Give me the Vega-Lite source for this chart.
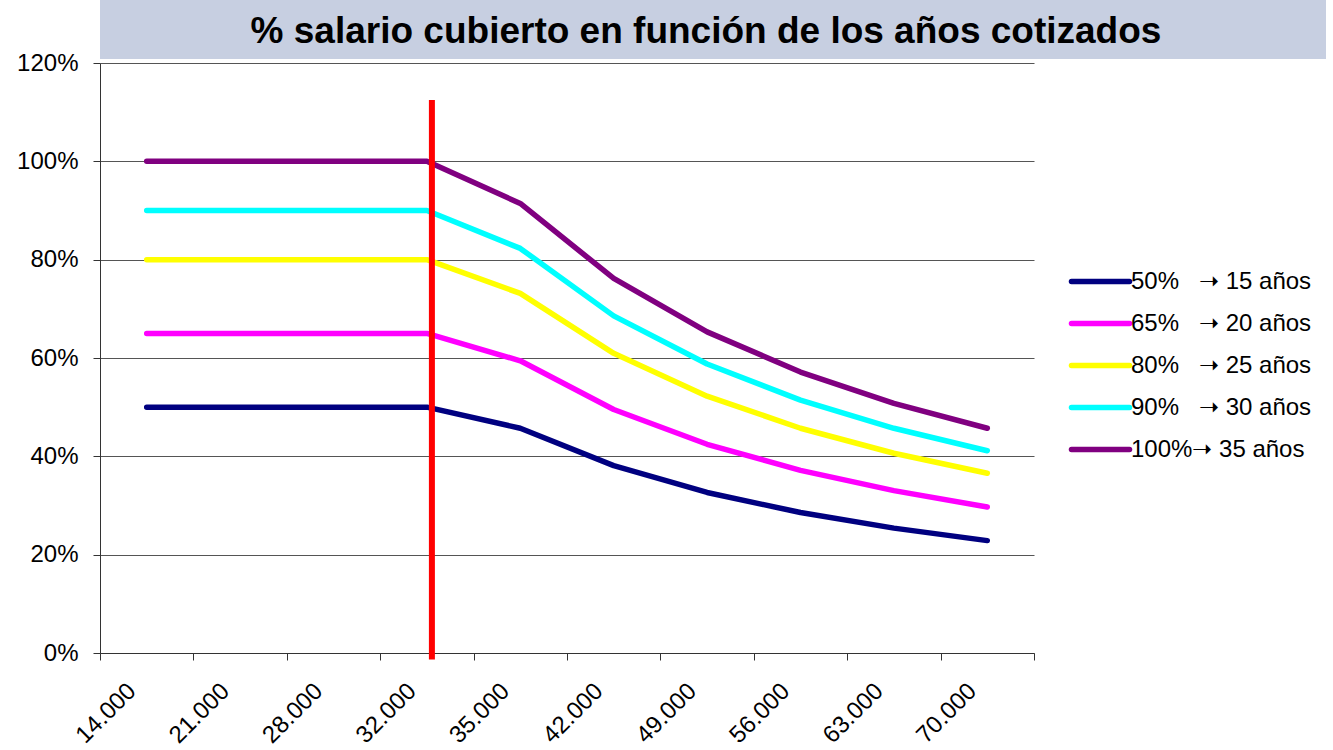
{
  "$schema": "https://vega.github.io/schema/vega-lite/v6.json",
  "padding": {"left": 16, "top": 0, "right": 0, "bottom": 0},
  "background": "white",
  "config": {"font": "Liberation Sans", "view": {"stroke": null}},
  "spacing": 4,
  "bounds": "flush",
  "datasets": {
    "series": [
      {"salario": "14.000", "serie": "50%", "pct": 0.5},
      {"salario": "21.000", "serie": "50%", "pct": 0.5},
      {"salario": "28.000", "serie": "50%", "pct": 0.5},
      {"salario": "32.000", "serie": "50%", "pct": 0.5},
      {"salario": "35.000", "serie": "50%", "pct": 0.4571},
      {"salario": "42.000", "serie": "50%", "pct": 0.381},
      {"salario": "49.000", "serie": "50%", "pct": 0.3265},
      {"salario": "56.000", "serie": "50%", "pct": 0.2857},
      {"salario": "63.000", "serie": "50%", "pct": 0.254},
      {"salario": "70.000", "serie": "50%", "pct": 0.2286},
      {"salario": "14.000", "serie": "65%", "pct": 0.65},
      {"salario": "21.000", "serie": "65%", "pct": 0.65},
      {"salario": "28.000", "serie": "65%", "pct": 0.65},
      {"salario": "32.000", "serie": "65%", "pct": 0.65},
      {"salario": "35.000", "serie": "65%", "pct": 0.5943},
      {"salario": "42.000", "serie": "65%", "pct": 0.4952},
      {"salario": "49.000", "serie": "65%", "pct": 0.4245},
      {"salario": "56.000", "serie": "65%", "pct": 0.3714},
      {"salario": "63.000", "serie": "65%", "pct": 0.3302},
      {"salario": "70.000", "serie": "65%", "pct": 0.2971},
      {"salario": "14.000", "serie": "80%", "pct": 0.8},
      {"salario": "21.000", "serie": "80%", "pct": 0.8},
      {"salario": "28.000", "serie": "80%", "pct": 0.8},
      {"salario": "32.000", "serie": "80%", "pct": 0.8},
      {"salario": "35.000", "serie": "80%", "pct": 0.7314},
      {"salario": "42.000", "serie": "80%", "pct": 0.6095},
      {"salario": "49.000", "serie": "80%", "pct": 0.5224},
      {"salario": "56.000", "serie": "80%", "pct": 0.4571},
      {"salario": "63.000", "serie": "80%", "pct": 0.4063},
      {"salario": "70.000", "serie": "80%", "pct": 0.3657},
      {"salario": "14.000", "serie": "90%", "pct": 0.9},
      {"salario": "21.000", "serie": "90%", "pct": 0.9},
      {"salario": "28.000", "serie": "90%", "pct": 0.9},
      {"salario": "32.000", "serie": "90%", "pct": 0.9},
      {"salario": "35.000", "serie": "90%", "pct": 0.8229},
      {"salario": "42.000", "serie": "90%", "pct": 0.6857},
      {"salario": "49.000", "serie": "90%", "pct": 0.5878},
      {"salario": "56.000", "serie": "90%", "pct": 0.5143},
      {"salario": "63.000", "serie": "90%", "pct": 0.4571},
      {"salario": "70.000", "serie": "90%", "pct": 0.4114},
      {"salario": "14.000", "serie": "100%", "pct": 1.0},
      {"salario": "21.000", "serie": "100%", "pct": 1.0},
      {"salario": "28.000", "serie": "100%", "pct": 1.0},
      {"salario": "32.000", "serie": "100%", "pct": 1.0},
      {"salario": "35.000", "serie": "100%", "pct": 0.9143},
      {"salario": "42.000", "serie": "100%", "pct": 0.7619},
      {"salario": "49.000", "serie": "100%", "pct": 0.6531},
      {"salario": "56.000", "serie": "100%", "pct": 0.5714},
      {"salario": "63.000", "serie": "100%", "pct": 0.5079},
      {"salario": "70.000", "serie": "100%", "pct": 0.4571}
    ],
    "marker": [
      {"salario": "32.000", "tope": 1.125}
    ]
  },
  "vconcat": [
    {
      "width": 1226,
      "height": 59,
      "view": {"fill": "#C7CFE1", "stroke": null},
      "data": {"values": [{"titulo": "% salario cubierto en función de los años cotizados"}]},
      "mark": {"type": "text", "fontSize": 37, "fontWeight": "bold", "color": "black", "baseline": "middle", "align": "center", "dx": -7, "dy": 2},
      "encoding": {"text": {"field": "titulo", "type": "nominal"}}
    },
    {
      "width": 934,
      "height": 590,
      "layer": [
        {
          "data": {"name": "series"},
          "mark": {"type": "line", "strokeWidth": 5.5, "strokeCap": "round", "strokeJoin": "round"},
          "encoding": {
            "x": {
              "field": "salario", "type": "ordinal", "bandPosition": 0.5, "title": null,
              "scale": {"type": "band", "paddingInner": 0, "paddingOuter": 0,
                        "domain": ["14.000", "21.000", "28.000", "32.000", "35.000", "42.000", "49.000", "56.000", "63.000", "70.000"]},
              "axis": {"labelAngle": -45, "labelAlign": "right", "labelBaseline": "alphabetic", "labelFontSize": 24,
                       "labelPadding": 32, "labelOffset": -10, "tickBand": "extent", "tickSize": 7, "tickColor": "#333333",
                       "domainColor": "#333333", "grid": false, "labelColor": "black", "labelOverlap": false}
            },
            "y": {
              "field": "pct", "type": "quantitative", "title": null,
              "scale": {"domain": [0, 1.2], "nice": false},
              "axis": {"values": [0, 0.2, 0.4, 0.6, 0.8, 1.0, 1.2], "format": ".0%", "labelFontSize": 24, "labelPadding": 15,
                       "tickSize": 7, "grid": true, "gridColor": "#555555", "gridWidth": 1, "domainColor": "#333333",
                       "tickColor": "#333333", "labelColor": "black"}
            },
            "color": {
              "field": "serie", "type": "nominal",
              "scale": {"domain": ["50%", "65%", "80%", "90%", "100%"],
                        "range": ["#000080", "#FF00FF", "#FFFF00", "#00FFFF", "#800080"]},
              "legend": {"title": null, "orient": "none", "legendX": 983, "legendY": 264, "symbolType": "M-2,0H2",
                         "symbolSize": 841, "symbolStrokeWidth": 5.5, "labelFontSize": 24, "labelColor": "black",
                         "labelOffset": 13, "rowPadding": 12, "padding": 0, "labelLimit": 400,
                         "labelExpr": "datum.label == '50%' ? '50%\u00a0\u00a0 ➝ 15 años' : datum.label == '65%' ? '65%\u00a0\u00a0 ➝ 20 años' : datum.label == '80%' ? '80%\u00a0\u00a0 ➝ 25 años' : datum.label == '90%' ? '90%\u00a0\u00a0 ➝ 30 años' : '100%➝ 35 años'",
                         "encode": {"symbols": {"update": {"strokeCap": {"value": "round"}}}}}
            }
          }
        },
        {
          "data": {"name": "marker"},
          "mark": {"type": "rule", "color": "#FF0000", "strokeWidth": 6, "xOffset": 5},
          "encoding": {
            "x": {"field": "salario", "type": "ordinal", "bandPosition": 0.5},
            "y": {"field": "tope", "type": "quantitative"},
            "y2": {"datum": -0.013}
          }
        }
      ]
    }
  ]
}
